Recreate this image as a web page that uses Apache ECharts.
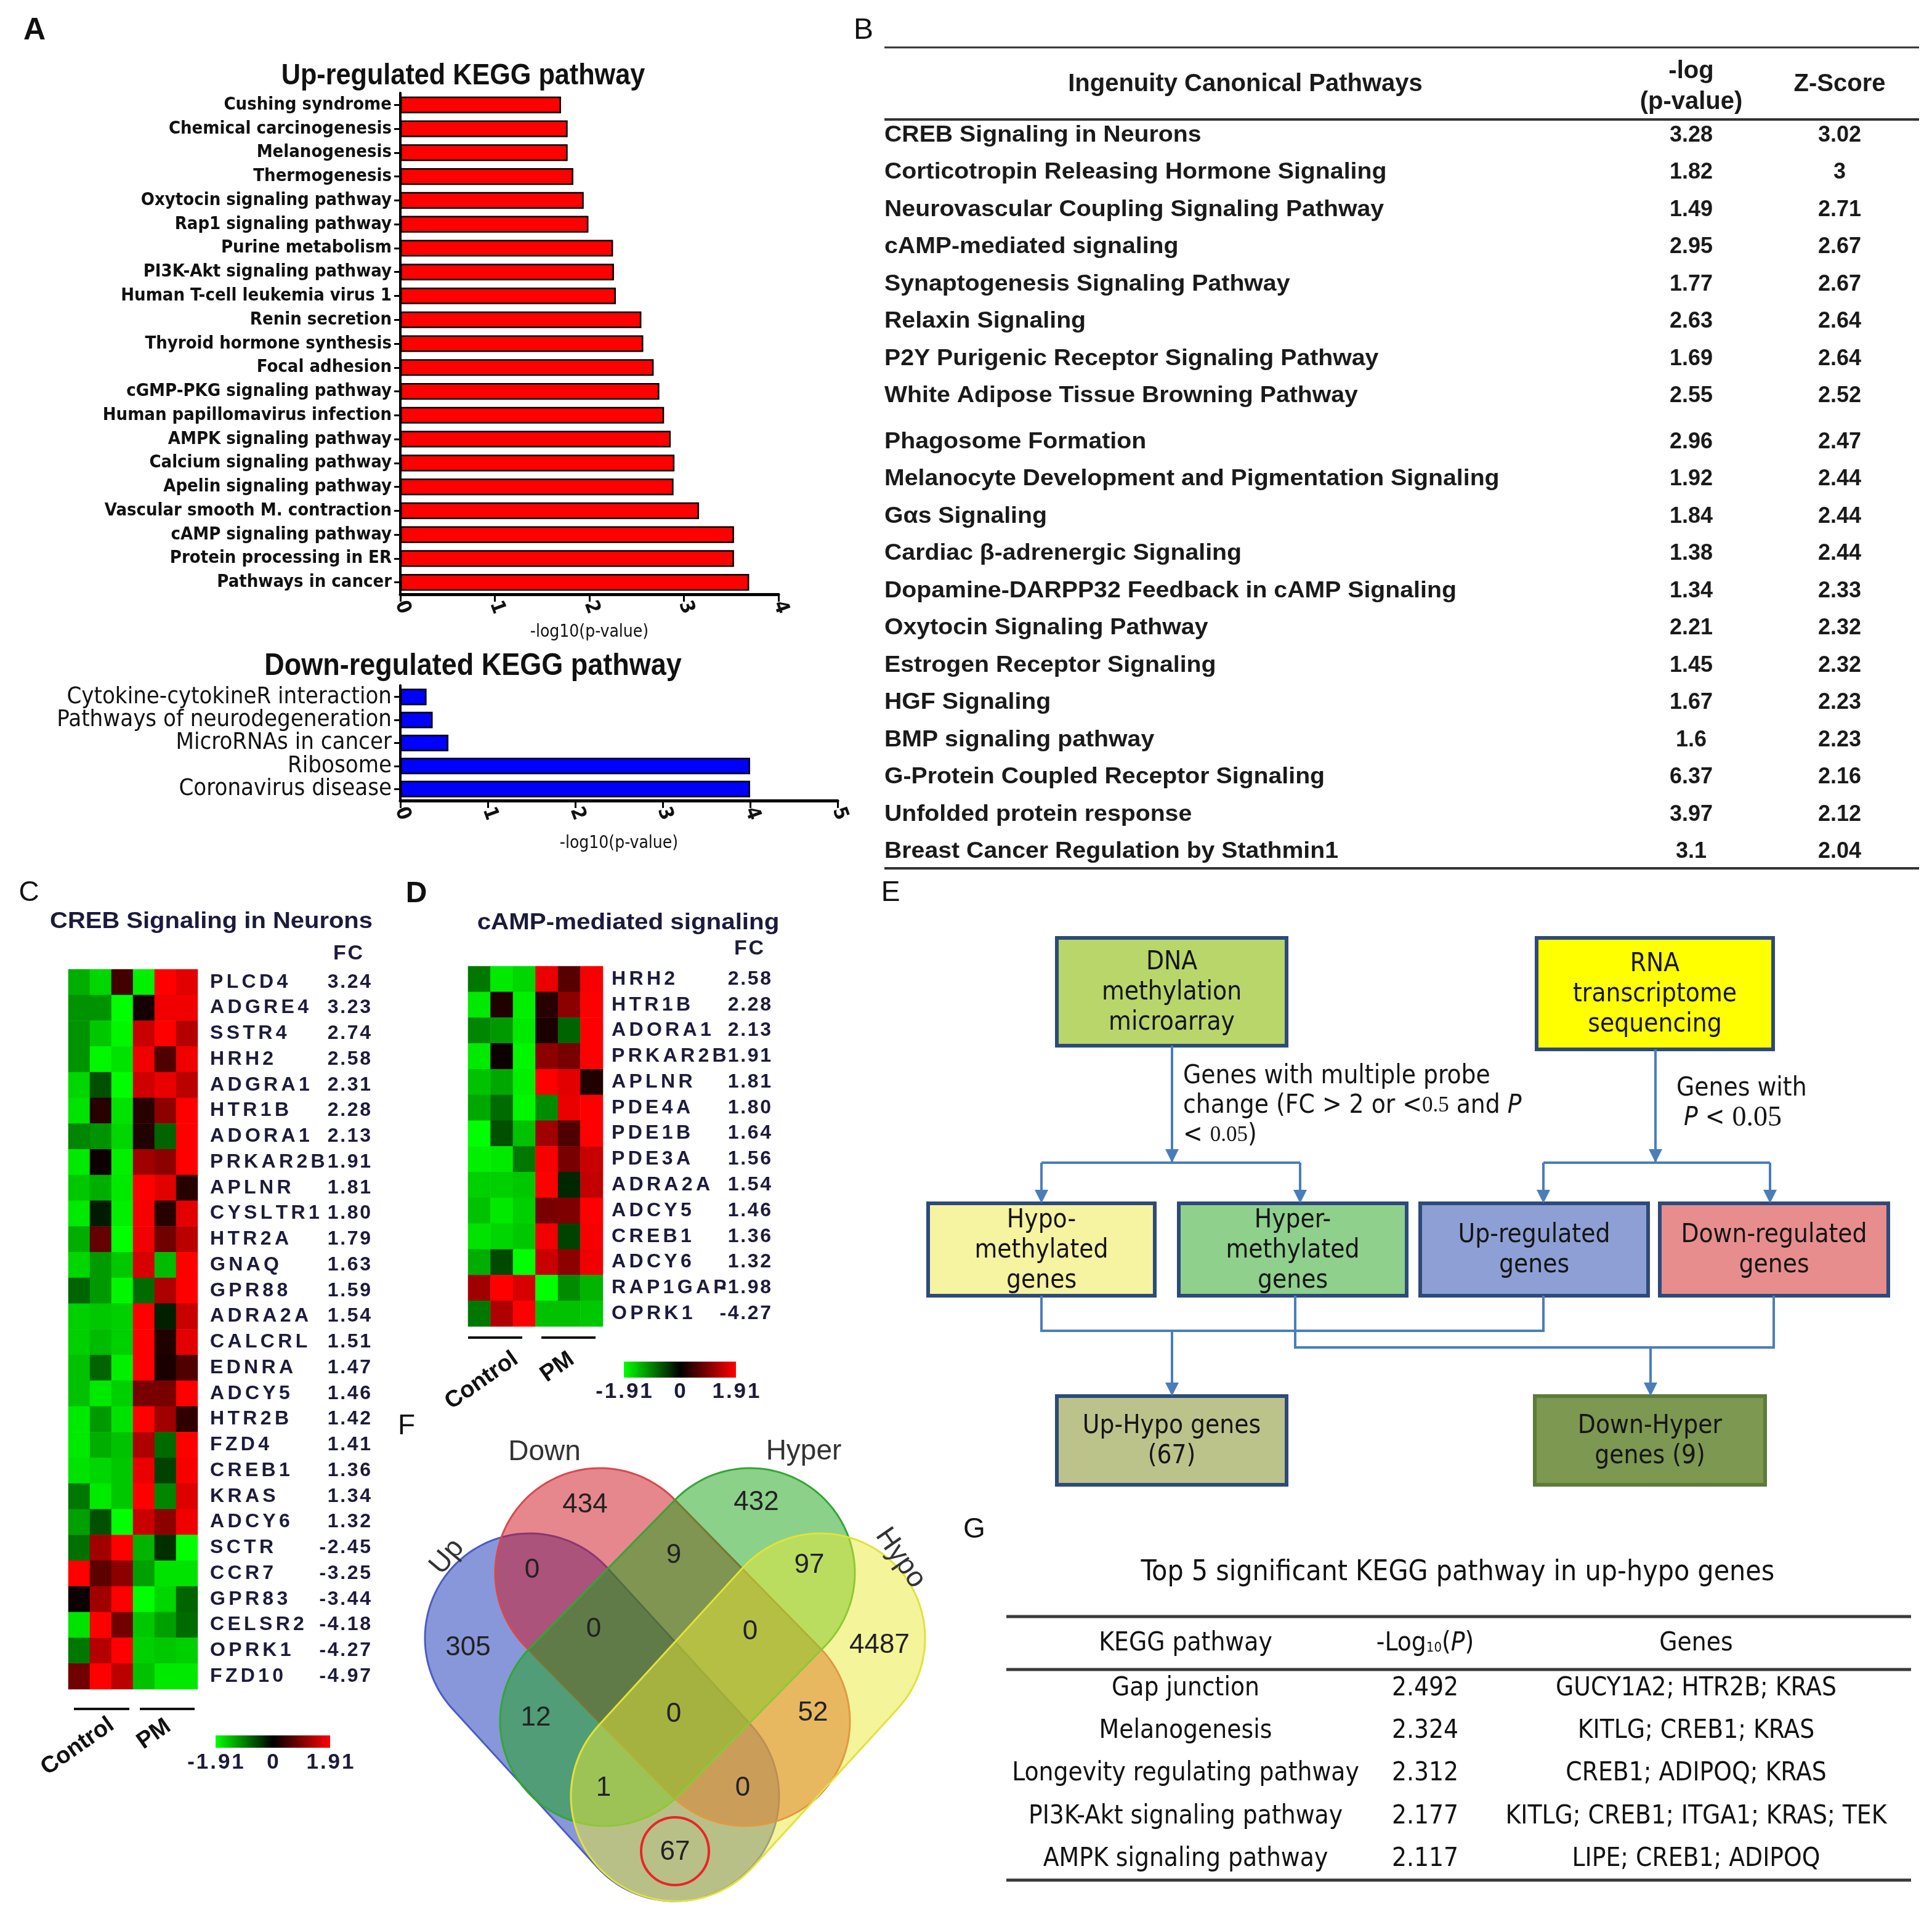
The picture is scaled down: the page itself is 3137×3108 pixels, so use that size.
<!DOCTYPE html>
<html><head><meta charset="utf-8">
<script src="https://cdn.jsdelivr.net/npm/echarts@6/dist/echarts.min.js"></script>
<style>html,body{margin:0;padding:0;background:#fff}#c{width:3137px;height:3108px}</style>
</head><body><div id="c"></div>
<script>
// ---------------- DATA ----------------
const upPathways = ['Cushing syndrome','Chemical carcinogenesis','Melanogenesis','Thermogenesis','Oxytocin signaling pathway','Rap1 signaling pathway','Purine metabolism','PI3K-Akt signaling pathway','Human T-cell leukemia virus 1','Renin secretion','Thyroid hormone synthesis','Focal adhesion','cGMP-PKG signaling pathway','Human papillomavirus infection','AMPK signaling pathway','Calcium signaling pathway','Apelin signaling pathway','Vascular smooth M. contraction','cAMP signaling pathway','Protein processing in ER','Pathways in cancer'];
const upValues = [1.70,1.77,1.77,1.83,1.94,1.99,2.25,2.26,2.28,2.55,2.57,2.68,2.74,2.79,2.86,2.90,2.89,3.16,3.53,3.53,3.69];
const downPathways = ['Cytokine-cytokineR interaction','Pathways of neurodegeneration','MicroRNAs in cancer','Ribosome','Coronavirus disease'];
const downValues = [0.30,0.37,0.55,4.0,4.0];
const upTicks = [0,1,2,3,4];
const downTicks = [0,1,2,3,4,5];

const ipaPathways = ['CREB Signaling in Neurons','Corticotropin Releasing Hormone Signaling','Neurovascular Coupling Signaling Pathway','cAMP-mediated signaling','Synaptogenesis Signaling Pathway','Relaxin Signaling','P2Y Purigenic Receptor Signaling Pathway','White Adipose Tissue Browning Pathway','Phagosome Formation','Melanocyte Development and Pigmentation Signaling','Gαs Signaling','Cardiac β-adrenergic Signaling','Dopamine-DARPP32 Feedback in cAMP Signaling','Oxytocin Signaling Pathway','Estrogen Receptor Signaling','HGF Signaling','BMP signaling pathway','G-Protein Coupled Receptor Signaling','Unfolded protein response','Breast Cancer Regulation by Stathmin1'];
const ipaLogP = ['3.28','1.82','1.49','2.95','1.77','2.63','1.69','2.55','2.96','1.92','1.84','1.38','1.34','2.21','1.45','1.67','1.6','6.37','3.97','3.1'];
const ipaZ = ['3.02','3','2.71','2.67','2.67','2.64','2.64','2.52','2.47','2.44','2.44','2.44','2.33','2.32','2.32','2.23','2.23','2.16','2.12','2.04'];

const sampleCols = ['C1','C2','C3','P1','P2','P3'];
const crebGenes = ['PLCD4','ADGRE4','SSTR4','HRH2','ADGRA1','HTR1B','ADORA1','PRKAR2B','APLNR','CYSLTR1','HTR2A','GNAQ','GPR88','ADRA2A','CALCRL','EDNRA','ADCY5','HTR2B','FZD4','CREB1','KRAS','ADCY6','SCTR','CCR7','GPR83','CELSR2','OPRK1','FZD10'];
const crebFC = ['3.24','3.23','2.74','2.58','2.31','2.28','2.13','1.91','1.81','1.80','1.79','1.63','1.59','1.54','1.51','1.47','1.46','1.42','1.41','1.36','1.34','1.32','-2.45','-3.25','-3.44','-4.18','-4.27','-4.97'];
const crebExpr = [
[-1.3,-1.6,0.5,-1.8,1.91,1.7],
[-1.1,-1.1,-1.91,0.15,1.8,1.8],
[-1.1,-1.5,-1.85,1.5,1.91,1.35],
[-1.1,-1.85,-1.7,1.8,0.6,1.8],
[-1.6,-0.6,-1.9,1.55,1.75,1.4],
[-1.7,0.3,-1.7,0.3,1.05,1.91],
[-1.0,-1.1,-1.6,0.25,-0.75,1.91],
[-1.75,0.1,-1.8,1.2,1.05,1.91],
[-1.5,-1.3,-1.75,1.91,1.7,0.3],
[-1.75,-0.2,-1.8,1.85,0.3,1.7],
[-1.3,0.75,-1.91,1.8,0.85,1.4],
[-1.6,-1.15,-1.5,1.6,-1.4,1.91],
[-0.75,-1.15,-1.85,-0.8,1.3,1.91],
[-1.55,-1.5,-1.55,1.91,-0.25,1.5],
[-1.55,-1.4,-1.55,1.91,0.25,1.7],
[-1.45,-0.75,-1.8,1.91,0.2,0.6],
[-1.45,-1.75,-1.55,0.9,0.9,1.91],
[-1.75,-1.15,-1.7,1.91,1.2,0.35],
[-1.75,-1.3,-1.45,1.3,-0.8,1.91],
[-1.7,-1.6,-1.5,1.75,-0.5,1.85],
[-0.9,-1.75,-1.5,1.91,-1.0,1.65],
[-1.2,-0.6,-1.91,1.5,1.05,1.8],
[-0.85,1.2,1.91,-1.35,-0.35,-1.91],
[1.91,0.7,1.05,-1.2,-1.7,-1.7],
[0.1,1.2,1.91,-1.91,-1.6,-0.75],
[-1.7,1.91,0.85,-1.5,-1.2,-0.8],
[-0.9,1.35,1.91,-1.55,-1.5,-1.55],
[0.85,1.91,1.4,-1.45,-1.75,-1.75]
];
const campGenes = ['HRH2','HTR1B','ADORA1','PRKAR2B','APLNR','PDE4A','PDE1B','PDE3A','ADRA2A','ADCY5','CREB1','ADCY6','RAP1GAP','OPRK1'];
const campFC = ['2.58','2.28','2.13','1.91','1.81','1.80','1.64','1.56','1.54','1.46','1.36','1.32','-1.98','-4.27'];
const campExpr = [
[-0.9,-1.75,-1.6,1.75,0.65,1.85],
[-1.75,0.25,-1.8,0.3,1.05,1.91],
[-1.0,-1.15,-1.75,0.2,-0.75,1.91],
[-1.75,0.1,-1.85,1.05,0.9,1.91],
[-1.45,-1.25,-1.8,1.91,1.7,0.25],
[-1.25,-0.8,-1.85,-1.05,1.75,1.91],
[-1.91,-0.6,-1.45,1.2,0.6,1.91],
[-1.8,-1.75,-0.9,1.85,0.9,1.5],
[-1.55,-1.55,-1.5,1.91,-0.3,1.45],
[-1.45,-1.75,-1.55,0.9,0.95,1.91],
[-1.7,-1.6,-1.5,1.8,-0.5,1.85],
[-1.3,-0.55,-1.91,1.5,1.05,1.8],
[1.2,1.91,1.6,-1.91,-1.05,-1.35],
[-0.9,1.3,1.91,-1.45,-1.45,-1.5]
];
const heatRange = [-1.91, 0, 1.91];

const vennSets = ['Up','Down','Hyper','Hypo'];
const vennCounts = [434,432,0,9,97,305,0,0,4487,12,0,52,1,0,67];

const flowTop = ['DNA\nmethylation\nmicroarray','RNA\ntranscriptome\nsequencing'];
const flowMid = ['Hypo-\nmethylated\ngenes','Hyper-\nmethylated\ngenes','Up-regulated\ngenes','Down-regulated\ngenes'];
const flowBottom = ['Up-Hypo genes\n(67)','Down-Hyper\ngenes (9)'];

const keggHeader = ['KEGG pathway','-Log10(P)','Genes'];
const keggPath = ['Gap junction','Melanogenesis','Longevity regulating pathway','PI3K-Akt signaling pathway','AMPK signaling pathway'];
const keggLogP = ['2.492','2.324','2.312','2.177','2.117'];
const keggGenes = ['GUCY1A2; HTR2B; KRAS','KITLG; CREB1; KRAS','CREB1; ADIPOQ; KRAS','KITLG; CREB1; ITGA1; KRAS; TEK','LIPE; CREB1; ADIPOQ'];

// ---------------- STYLE / LAYOUT ----------------
const FN = "'Liberation Sans Narrow','DejaVu Sans Condensed','Liberation Sans',sans-serif";
const FS = "'Liberation Sans',Arial,sans-serif";
const FSERIF = "'Liberation Serif','DejaVu Serif',serif";
const SP6 = '\u2006', HAIR = '\u200A';
function spaced(s, sp) { return String(s).split('').join(sp); }
const G = [];
function txt(x, y, text, font, o) {
  o = o || {};
  const st = {text: text, font: font, fill: o.fill || '#111', textAlign: o.align || 'center', align: o.align || 'center',
    textVerticalAlign: o.va || 'middle', verticalAlign: o.va || 'middle'};
  if (o.lh) st.lineHeight = o.lh;
  if (o.rich) st.rich = o.rich;
  G.push({type: 'text', x: x, y: y, rotation: o.rot || 0, scaleX: o.sx || 1, z: 50, style: st});
}
function line(x1, y1, x2, y2, color, w) {
  G.push({type: 'line', z: 20, shape: {x1: x1, y1: y1, x2: x2, y2: y2}, style: {stroke: color, lineWidth: w}});
}
function rect(x, y, w, h, fill, stroke, lw) {
  G.push({type: 'rect', z: 10, shape: {x: x, y: y, width: w, height: h}, style: {fill: fill, stroke: stroke, lineWidth: lw}});
}
function poly(points, fill, stroke, lw, z) {
  G.push({type: 'polygon', z: z || 20, shape: {points: points}, style: {fill: fill, stroke: stroke, lineWidth: lw || 0}});
}
function polyline(points, color, w) {
  G.push({type: 'polyline', z: 20, shape: {points: points}, style: {stroke: color, lineWidth: w, fill: null}});
}

// Panel letters
txt(56, 50, 'A', 'bold 50px ' + FS);
txt(1402, 50, 'B', '48px ' + FS);
txt(47, 1450, 'C', '46px ' + FS);
txt(676, 1452, 'D', 'bold 48px ' + FS);
txt(1446, 1450, 'E', '46px ' + FS);
txt(660, 2316, 'F', '46px ' + FS);
txt(1582, 2484, 'G', '46px ' + FS);

// Panel A titles
txt(752, 124, 'Up-regulated KEGG pathway', 'bold 48px ' + FS, {sx: 0.9});
txt(768, 1082, 'Down-regulated KEGG pathway', 'bold 50px ' + FS, {sx: 0.9});

// Panel B table
const BL = 1436, BR = 3116;
const BC = '#1a1a1a';
line(BL, 77, BR, 77, '#333', 3);
line(BL, 194, BR, 194, '#333', 4);
line(BL, 1410, BR, 1410, '#333', 4);
txt(2022, 137, 'Ingenuity Canonical Pathways', 'bold 40px ' + FS, {fill: BC});
txt(2746, 116, '-log', 'bold 40px ' + FS, {fill: BC});
txt(2746, 166, '(p-value)', 'bold 40px ' + FS, {fill: BC});
txt(2987, 137, 'Z-Score', 'bold 40px ' + FS, {fill: BC});
ipaPathways.forEach(function (p, i) {
  const y = 220 + i * 60.45 + (i >= 8 ? 14.5 : 0);
  txt(BL, y, p, 'bold 36px ' + FS, {align: 'left', fill: BC, sx: 1.09});
  txt(2746, y, ipaLogP[i], 'bold 36px ' + FS, {fill: BC});
  txt(2987, y, ipaZ[i], 'bold 36px ' + FS, {fill: BC});
});

// Panels C & D headers / decorations
const HEADC = '#1b1b3b';
txt(343, 1497, 'CREB Signaling in Neurons', 'bold 36px ' + FS, {fill: HEADC, sx: 1.11});
txt(565, 1549, spaced('FC', HAIR), 'bold 34px ' + FS, {fill: HEADC});
txt(1020, 1499, 'cAMP-mediated signaling', 'bold 36px ' + FS, {fill: HEADC, sx: 1.12});
txt(1216, 1541, spaced('FC', HAIR), 'bold 34px ' + FS, {fill: HEADC});
function groupDeco(cl, cr, pl, pr, ly, ctrlXY, pmXY, barX, barY, barW, barH, labY) {
  line(cl, ly, cr, ly, '#111', 4);
  line(pl, ly, pr, ly, '#111', 4);
  txt(ctrlXY[0], ctrlXY[1], 'Control', 'bold 38px ' + FS, {rot: 35 * Math.PI / 180, fill: '#111'});
  txt(pmXY[0], pmXY[1], 'PM', 'bold 38px ' + FS, {rot: 35 * Math.PI / 180, fill: '#111'});
  G.push({type: 'rect', z: 10, shape: {x: barX, y: barY, width: barW, height: barH},
    style: {fill: new echarts.graphic.LinearGradient(0, 0, 1, 0, [
      {offset: 0, color: '#00ff00'}, {offset: 0.5, color: '#000000'}, {offset: 1, color: '#ff0000'}])}});
  heatRange.forEach(function (v, k) {
    txt(barX + barW * k / 2, labY, spaced(v === 0 ? '0' : v.toFixed(2), HAIR), 'bold 35px ' + FS, {fill: HEADC});
  });
}
groupDeco(120, 210, 227, 316, 2775, [126, 2836], [250, 2816], 350, 2818, 186, 20, 2862);
groupDeco(760, 848, 879, 967, 2172, [782, 2242], [905, 2220], 1013, 2211, 182, 26, 2260);

// Panel E flowchart
const BORDER = '#2d4a7a', CONN = '#4a7ebb';
const boxFont = '42px ' + FN;
function box(x1, y1, x2, y2, fill, label, border) {
  rect(x1, y1, x2 - x1, y2 - y1, fill, border || BORDER, 6);
  txt((x1 + x2) / 2, (y1 + y2) / 2 + 2, label, boxFont, {lh: 49, fill: '#151515'});
}
function arrowDown(x, y1, y2) {
  line(x, y1, x, y2 - 18, CONN, 4);
  poly([[x - 11, y2 - 22], [x + 11, y2 - 22], [x, y2]], CONN, null, 0, 22);
}
box(1716, 1523, 2089, 1698, '#b9d66b', flowTop[0]);
box(2495, 1523, 2879, 1704, '#ffff00', flowTop[1]);
const midX = [[1507, 1875], [1914, 2284], [2306, 2676], [2695, 3066]];
const midFill = ['#f6f3a1', '#8fd08c', '#8e9fd6', '#e88d8d'];
midX.forEach(function (m, i) { box(m[0], 1954, m[1], 2104, midFill[i], flowMid[i]); });
box(1716, 2267, 2089, 2411, '#bcc38a', flowBottom[0]);
box(2492, 2267, 2866, 2411, '#7d9850', flowBottom[1], '#5e7a3c');
line(1903, 1698, 1903, 1888, CONN, 4);
poly([[1892, 1866], [1914, 1866], [1903, 1888]], CONN, null, 0, 22);
line(1691, 1888, 2111, 1888, CONN, 4);
arrowDown(1691, 1888, 1954); arrowDown(2111, 1888, 1954);
line(2688, 1704, 2688, 1888, CONN, 4);
poly([[2677, 1866], [2699, 1866], [2688, 1888]], CONN, null, 0, 22);
line(2506, 1888, 2874, 1888, CONN, 4);
arrowDown(2506, 1888, 1954); arrowDown(2874, 1888, 1954);
polyline([[1691, 2104], [1691, 2161], [2506, 2161], [2506, 2104]], CONN, 4);
polyline([[2103, 2104], [2103, 2188], [2880, 2188], [2880, 2104]], CONN, 4);
arrowDown(1903, 2161, 2267);
arrowDown(2680, 2188, 2267);
const annRich = {
  a: {font: '42px ' + FN, fill: '#151515', lineHeight: 48},
  i: {font: 'italic 42px ' + FN, fill: '#151515', lineHeight: 48},
  s: {font: '35px ' + FSERIF, fill: '#151515', lineHeight: 48},
  S: {font: '46px ' + FSERIF, fill: '#151515', lineHeight: 48}
};
txt(1921, 1796, '{a|Genes with multiple probe}\n{a|change (FC > 2 or <}{s|0.5}{a| and }{i|P}\n{a|< }{s|0.05}{a|)}', '42px ' + FN,
  {align: 'left', rich: annRich});
txt(2722, 1792, '{a|Genes with}\n{i| P}{a| < }{S|0.05}', '42px ' + FN, {align: 'left', rich: annRich});

// Panel F Venn (capsule outlines: two cap centres + radius)
const vennGeom = [
  {p1: [860, 2660], p2: [1095, 2917], fill: 'rgba(17,47,179,0.5)', stroke: '#4a5bc8'},
  {p1: [974, 2554], p2: [1210, 2795], fill: 'rgba(205,15,27,0.5)', stroke: '#d8484e'},
  {p1: [1218, 2554], p2: [982, 2795], fill: 'rgba(23,163,21,0.5)', stroke: '#35a535'},
  {p1: [1332, 2660], p2: [1097, 2917], fill: 'rgba(233,233,53,0.5)', stroke: '#e2e23a'}
];
const vennR = 170;
function capsulePts(g, R) {
  const phi = Math.atan2(g.p2[1] - g.p1[1], g.p2[0] - g.p1[0]), pts = [], N = 90;
  for (let k = 0; k <= N; k++) {
    const a = phi - Math.PI / 2 + Math.PI * k / N;
    pts.push([g.p2[0] + R * Math.cos(a), g.p2[1] + R * Math.sin(a)]);
  }
  for (let k = 0; k <= N; k++) {
    const a = phi + Math.PI / 2 + Math.PI * k / N;
    pts.push([g.p1[0] + R * Math.cos(a), g.p1[1] + R * Math.sin(a)]);
  }
  return pts;
}
vennGeom.forEach(function (g, i) { poly(capsulePts(g, vennR), g.fill, g.stroke, 3, 30 + i); });
const vennPos = [[950,2444],[1228,2440],[864,2550],[1094,2526],[1314,2542],[760,2676],[964,2646],[1218,2650],[1428,2672],[870,2790],[1094,2784],[1320,2782],[980,2904],[1206,2904],[1096,3008]];
vennCounts.forEach(function (c, i) { txt(vennPos[i][0], vennPos[i][1], String(c), '44px ' + FS, {fill: '#222'}); });
G.push({type: 'circle', z: 60, shape: {cx: 1096, cy: 3006, r: 55}, style: {fill: null, stroke: '#e8262a', lineWidth: 4}});
const vennLab = [[726, 2528, 50], [884, 2358, 0], [1305, 2357, 0], [1462, 2530, -55]];
vennSets.forEach(function (s, i) {
  txt(vennLab[i][0], vennLab[i][1], s, '46px ' + FS, {fill: '#333', rot: vennLab[i][2] * Math.PI / 180});
});

// Panel G table
const GL = 1634, GR = 3103;
txt(2367, 2554, 'Top 5 significant KEGG pathway in up-hypo genes', '46px ' + FN, {fill: '#111'});
line(GL, 2625, GR, 2625, '#3a3a3a', 5);
line(GL, 2711, GR, 2711, '#3a3a3a', 5);
line(GL, 3053, GR, 3053, '#3a3a3a', 5);
const gCols = [1925, 2314, 2754];
const gFont = '42px ' + FN;
txt(gCols[0], 2669, keggHeader[0], gFont);
txt(gCols[1], 2669, '{a|-Log}{b|10}{a|(}{i|P}{a|)}', gFont, {rich: {
  a: {font: '42px ' + FN, fill: '#111'}, b: {font: '22px ' + FN, fill: '#111', padding: [14, 0, 0, 0]},
  i: {font: 'italic 42px ' + FN, fill: '#111'}}});
txt(gCols[2], 2669, keggHeader[2], gFont);
keggPath.forEach(function (p, i) {
  const y = 2742 + i * 69.25;
  txt(gCols[0], y, p, gFont);
  txt(gCols[1], y, keggLogP[i], gFont);
  txt(gCols[2], y, keggGenes[i], gFont);
});

// ---------------- CHART ----------------
function toCells(m) {
  const out = [];
  m.forEach(function (row, r) { row.forEach(function (v, c) { out.push([c, r, v]); }); });
  return out;
}
const axisBlack = {lineStyle: {color: '#000', width: 4}};
function barYAxis(gi, data, fs, fw) {
  return {gridIndex: gi, type: 'category', data: data, inverse: true,
    axisLine: axisBlack, axisTick: {show: true, alignWithLabel: true, length: 10, lineStyle: {color: '#000', width: 3}},
    axisLabel: {interval: 0, margin: 14, fontFamily: FN, fontSize: fs, fontWeight: fw, color: '#111'}};
}
function barXAxis(gi, ticks, gap) {
  return {gridIndex: gi, type: 'value', min: ticks[0], max: ticks[ticks.length - 1], interval: 1,
    axisLine: {show: true, lineStyle: {color: '#000', width: 5}},
    axisTick: {show: true, length: 12, lineStyle: {color: '#000', width: 3}},
    splitLine: {show: false},
    axisLabel: {rotate: -70, margin: 12, fontFamily: FN, fontSize: 32, fontWeight: 'bold', color: '#111'},
    name: '-log10(p-value)', nameLocation: 'middle', nameGap: gap,
    nameTextStyle: {fontFamily: FN, fontSize: 28, color: '#111'}};
}
function heatX(gi) {
  return {gridIndex: gi, type: 'category', data: sampleCols, show: false};
}
function heatY(gi, data, align, margin, sp) {
  return {gridIndex: gi, type: 'category', data: data, inverse: true, position: 'right',
    axisLine: {show: false}, axisTick: {show: false}, splitLine: {show: false},
    axisLabel: {interval: 0, align: align, margin: margin, fontFamily: FS, fontWeight: 'bold', fontSize: 32, color: HEADC,
      formatter: function (v) { return spaced(v, sp); }}};
}
const gridBase = {containLabel: false, outerBoundsMode: 'none'};
const option = {
  animation: false,
  backgroundColor: '#ffffff',
  textStyle: {fontFamily: FS},
  grid: [
    Object.assign({left: 650, top: 151, width: 614, height: 814}, gridBase),
    Object.assign({left: 650, top: 1113, width: 710, height: 187}, gridBase),
    Object.assign({left: 111, top: 1574, width: 210, height: 1169}, gridBase),
    Object.assign({left: 760, top: 1569, width: 219, height: 585}, gridBase)
  ],
  xAxis: [barXAxis(0, upTicks, 48), barXAxis(1, downTicks, 56), heatX(2), heatX(3)],
  yAxis: [barYAxis(0, upPathways, 29, 'bold'), barYAxis(1, downPathways, 38, 'normal'),
    heatY(2, crebGenes, 'left', 20, SP6), heatY(2, crebFC, 'right', 281, HAIR),
    heatY(3, campGenes, 'left', 14, SP6), heatY(3, campFC, 'right', 273, HAIR)],
  visualMap: {show: false, type: 'continuous', min: heatRange[0], max: heatRange[2], seriesIndex: [2, 3],
    inRange: {color: ['#00ff00', '#000000', '#ff0000']}},
  series: [
    {type: 'bar', xAxisIndex: 0, yAxisIndex: 0, data: upValues, barWidth: '70%',
      itemStyle: {color: '#ff0000', borderColor: '#000', borderWidth: 2.5}},
    {type: 'bar', xAxisIndex: 1, yAxisIndex: 1, data: downValues, barWidth: '72%',
      itemStyle: {color: '#0000ff', borderColor: '#000', borderWidth: 2.5}},
    {type: 'heatmap', xAxisIndex: 2, yAxisIndex: 2, data: toCells(crebExpr), emphasis: {disabled: true}},
    {type: 'heatmap', xAxisIndex: 3, yAxisIndex: 4, data: toCells(campExpr), emphasis: {disabled: true}}
  ],
  graphic: {elements: G}
};
const chart = echarts.init(document.getElementById('c'), null, {renderer: 'canvas', width: 3137, height: 3108});
chart.setOption(option);
</script></body></html>
